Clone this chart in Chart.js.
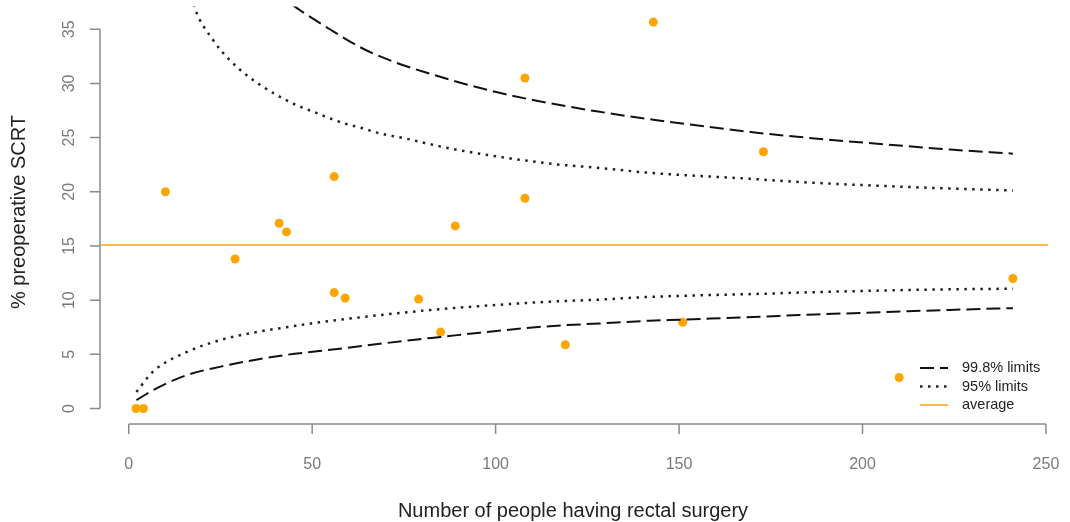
<!DOCTYPE html>
<html>
<head>
<meta charset="utf-8">
<script src="https://cdn.jsdelivr.net/npm/chart.js@4"></script>
<style>
  html, body { margin: 0; padding: 0; background: #fff; }
  #funnel { display: block; }
</style>
</head>
<body>
<canvas id="funnel" width="1070" height="522"></canvas>
<script>
// ===== DATA =====
const surgeryCount = [2, 4, 10, 29, 41, 43, 56, 56, 59, 79, 85, 89, 108, 108, 119, 143, 151, 173, 210, 241];
const scrtPct = [0, 0, 20, 13.8, 17.1, 16.3, 21.4, 10.7, 10.2, 10.1, 7.05, 16.85, 30.5, 19.4, 5.88, 35.66, 7.95, 23.7, 2.86, 12.0];
const average = 15.1;

// limits
const up998N = [44.6, 46.6, 54.8, 63.9, 73, 82.1, 91.1, 100.2, 111.2, 128, 143, 170, 183, 224, 241];
const up998 = [37.25, 36.78, 35.0, 33.2, 31.9, 30.9, 30.0, 29.2, 28.4, 27.4, 26.65, 25.5, 25.05, 23.9, 23.52];
const up95N = [17.7, 18, 23, 27.5, 32.1, 36.6, 41.2, 45.7, 50.3, 54.8, 59.35, 63.9, 68.4, 75.7, 87.5, 114.8, 128.4, 142, 169.3, 182.9, 223.8, 241];
const up95 = [37.3, 36.93, 34.0, 32.16, 30.77, 29.69, 28.77, 28.0, 27.39, 26.78, 26.25, 25.85, 25.39, 24.9, 24.0, 22.6, 22.2, 21.75, 21.2, 20.9, 20.3, 20.13];
const lo95N = [2.1, 6.6, 15.7, 24.8, 33.9, 43, 52, 79.3, 95.7, 114.8, 128.4, 142, 173.9, 182.9, 223.8, 241];
const lo95 = [1.53, 3.4, 5.2, 6.3, 7.0, 7.5, 7.95, 9.0, 9.45, 9.86, 10.05, 10.3, 10.6, 10.7, 11.0, 11.05];
const lo998N = [2.1, 6.6, 15.7, 24.8, 33.9, 43, 52, 79.3, 85, 95.7, 114.8, 128.4, 142, 151, 173.9, 182.9, 223.8, 241];
const lo998 = [0.77, 1.69, 3.07, 3.84, 4.46, 4.95, 5.3, 6.4, 6.6, 7.0, 7.6, 7.85, 8.1, 8.2, 8.5, 8.62, 9.1, 9.26];

const xTicks = [0, 50, 100, 150, 200, 250];
const yTicks = [0, 5, 10, 15, 20, 25, 30, 35];
const xRange = [-7.56, 250.56];
const yRange = [-1.43, 37.09];

const legendItems = [
    { label: '99.8% limits', dash: [14, 6], color: '#111', width: 2 },
    { label: '95% limits', dash: [2.5, 5.5], color: '#222', width: 2.5 },
    { label: 'average', dash: [], color: '#ffa500', width: 1.5 },
];

const pts = (xs, ys) => xs.map((x, i) => ({ x: x, y: ys[i] }));

const limitLine = (xs, ys, dash, color, width) => ({
    type: 'line',
    data: pts(xs, ys),
    borderColor: color,
    borderWidth: width,
    borderDash: dash,
    borderCapStyle: 'butt',
    pointRadius: 0,
    fill: false,
    cubicInterpolationMode: 'monotone',
});

// ===== AXES + LEGEND =====
const axisColor = '#8a8a8a';
const rAxes = {
    id: 'rAxes',
    afterDraw(chart) {
        const c = chart.ctx;
        const xs = chart.scales.x, ys = chart.scales.y;
        const area = chart.chartArea;
        c.save();
        c.strokeStyle = axisColor;
        c.lineWidth = 1.5;
        c.fillStyle = '#7a7a7a';
        c.font = '16px "Liberation Sans", Arial, sans-serif';

        // x axis
        const yAx = 424;
        c.beginPath();
        c.moveTo(xs.getPixelForValue(xTicks[0]), yAx);
        c.lineTo(xs.getPixelForValue(xTicks[xTicks.length - 1]), yAx);
        xTicks.forEach(t => {
            const px = xs.getPixelForValue(t);
            c.moveTo(px, yAx);
            c.lineTo(px, yAx + 10);
        });
        c.stroke();
        c.textAlign = 'center';
        c.textBaseline = 'middle';
        xTicks.forEach(t => c.fillText(String(t), xs.getPixelForValue(t), 465));

        // y axis
        const xAx = area.left - 1;
        c.beginPath();
        c.moveTo(xAx, ys.getPixelForValue(yTicks[0]));
        c.lineTo(xAx, ys.getPixelForValue(yTicks[yTicks.length - 1]));
        yTicks.forEach(t => {
            const py = ys.getPixelForValue(t);
            c.moveTo(xAx, py);
            c.lineTo(xAx - 10, py);
        });
        c.stroke();
        yTicks.forEach(t => {
            c.save();
            c.translate(70, ys.getPixelForValue(t));
            c.rotate(-Math.PI / 2);
            c.fillText(String(t), 0, 0);
            c.restore();
        });

        // titles
        c.fillStyle = '#222';
        c.font = '20px "Liberation Sans", Arial, sans-serif';
        c.fillText('Number of people having rectal surgery', 573, 511);
        c.save();
        c.translate(19, 212);
        c.rotate(-Math.PI / 2);
        c.fillText('% preoperative SCRT', 0, 0);
        c.restore();

        // legend
        c.font = '14.5px "Liberation Sans", Arial, sans-serif';
        c.textAlign = 'left';
        legendItems.forEach((it, i) => {
            const y = 368 + i * 18.5;
            c.beginPath();
            c.strokeStyle = it.color;
            c.lineWidth = it.width;
            c.setLineDash(it.dash);
            c.moveTo(920, y);
            c.lineTo(948, y);
            c.stroke();
            c.setLineDash([]);
            c.fillStyle = '#222';
            c.fillText(it.label, 962, y);
        });
        c.restore();
    }
};

new Chart(document.getElementById('funnel'), {
    type: 'scatter',
    data: {
        datasets: [
            limitLine(up998N, up998, [14, 6], '#111', 2),
            limitLine(lo998N, lo998, [14, 6], '#111', 2),
            limitLine(up95N, up95, [2.5, 5.5], '#222', 2.5),
            limitLine(lo95N, lo95, [2.5, 5.5], '#222', 2.5),
            {
                type: 'line',
                data: pts(xRange, [average, average]),
                borderColor: '#ffa500',
                borderWidth: 1.5,
                pointRadius: 0,
                fill: false,
            },
            {
                data: pts(surgeryCount, scrtPct),
                backgroundColor: '#ffa500',
                borderColor: '#ffa500',
                pointRadius: 4.5,
                pointBorderWidth: 0,
            },
        ]
    },
    options: {
        responsive: false,
        animation: false,
        layout: { padding: { left: 101, right: 22, top: 6.6, bottom: 98 } },
        plugins: { legend: { display: false }, tooltip: { enabled: false } },
        scales: {
            x: { type: 'linear', min: xRange[0], max: xRange[1], display: false },
            y: { type: 'linear', min: yRange[0], max: yRange[1], display: false },
        }
    },
    plugins: [rAxes]
});
</script>
</body>
</html>
